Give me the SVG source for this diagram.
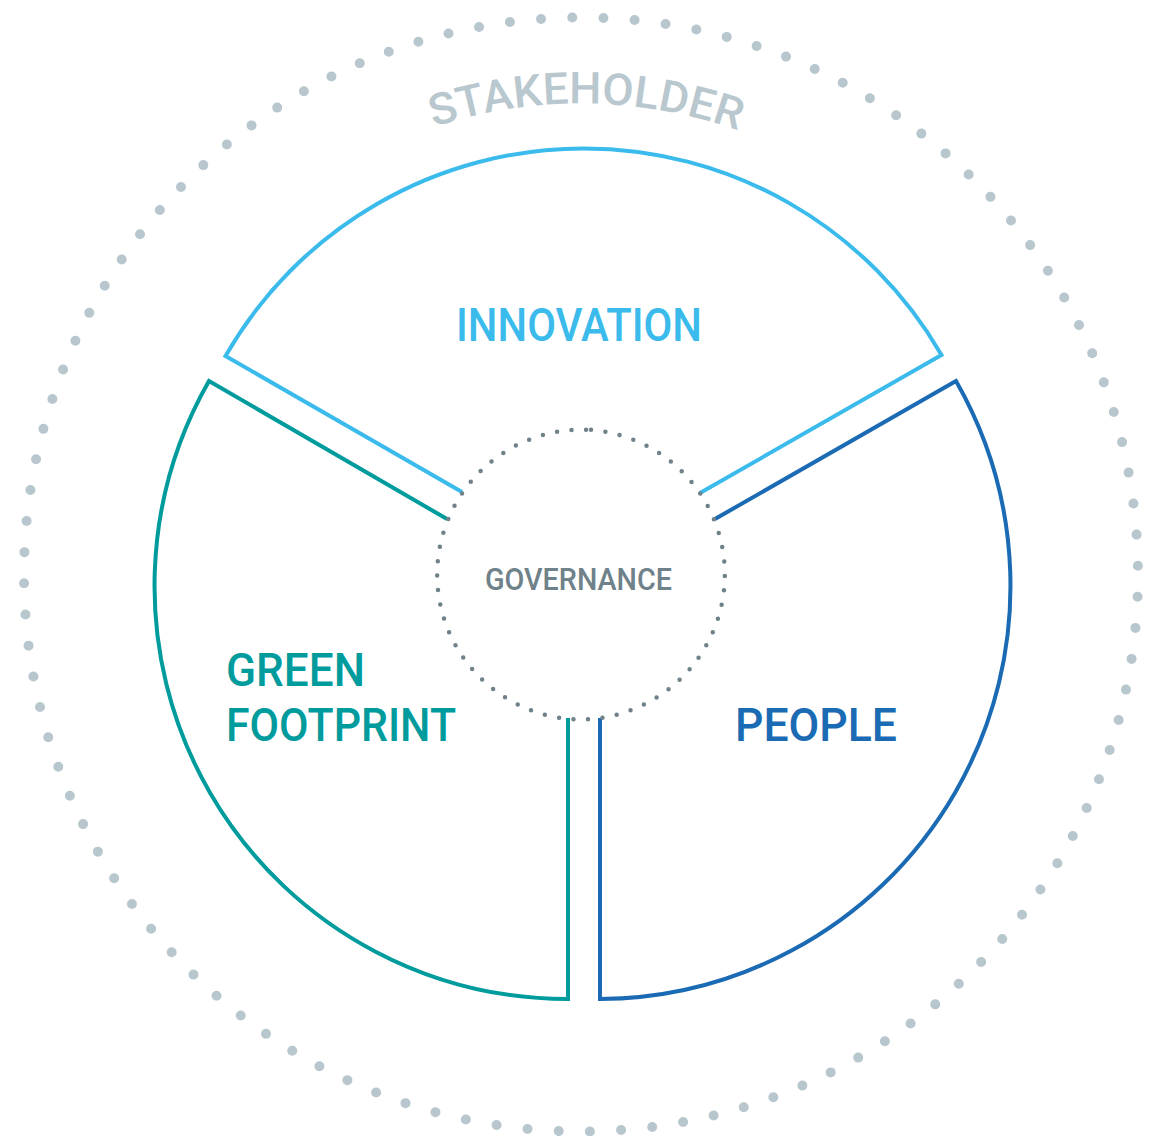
<svg xmlns="http://www.w3.org/2000/svg" width="1151" height="1136" viewBox="0 0 1151 1136">
  <style>
    .seg { fill: none; stroke-width: 4; stroke-linejoin: miter; }
    .lbl { font-family: Roboto, "Liberation Sans", sans-serif; font-weight: 500; }
  </style>
  <defs>
    <path id="stakeArc" d="M 110 574.5 A 471 471 0 0 1 1052 574.5"/>
  </defs>
  <rect width="1151" height="1136" fill="#ffffff"/>

  <g id="node-stakeholder">
    <circle cx="581" cy="574.5" r="557" fill="none" stroke="#b8c7ce" stroke-width="10" stroke-linecap="round" stroke-dasharray="0 31.247" stroke-dashoffset="9"/>
    <text class="lbl" font-size="44" fill="#b9c7ce" text-anchor="middle">
      <textPath href="#stakeArc" startOffset="745" textLength="310" lengthAdjust="spacingAndGlyphs">STAKEHOLDER</textPath>
    </text>
  </g>

  <g id="node-innovation">
    <path class="seg" stroke="#3bbbec" d="M 462 492 L 225.5 356 A 413 413 0 0 1 941.5 355 L 700 493"/>
    <text class="lbl" x="456" y="341" font-size="47" fill="#3bbbec" textLength="246" lengthAdjust="spacingAndGlyphs">INNOVATION</text>
  </g>

  <g id="node-green-footprint">
    <path class="seg" stroke="#009b9c" d="M 447 519 L 209 381 A 413 413 0 0 0 568 999 L 568 718"/>
    <text class="lbl" x="226" y="686" font-size="47" fill="#009b9c" textLength="139" lengthAdjust="spacingAndGlyphs">GREEN</text>
    <text class="lbl" x="226" y="741" font-size="47" fill="#009b9c" textLength="230" lengthAdjust="spacingAndGlyphs">FOOTPRINT</text>
  </g>

  <g id="node-people">
    <path class="seg" stroke="#1a6ab4" d="M 715 519 L 956 381 A 413 413 0 0 1 600 999 L 600 718"/>
    <text class="lbl" x="735" y="741" font-size="47" fill="#1a6ab4" textLength="162" lengthAdjust="spacingAndGlyphs">PEOPLE</text>
  </g>

  <g id="node-governance">
    <path d="M 591 429.85 A 145 145 0 0 1 571 719.15 A 145 145 0 0 1 591 429.85" fill="none" stroke="#6f8189" stroke-width="4.5" stroke-linecap="round" stroke-dasharray="0 14.532"/>
    <text class="lbl" x="485" y="590" font-size="31" fill="#6f8189" textLength="187" lengthAdjust="spacingAndGlyphs">GOVERNANCE</text>
  </g>

  <g id="connectors"/>
</svg>
